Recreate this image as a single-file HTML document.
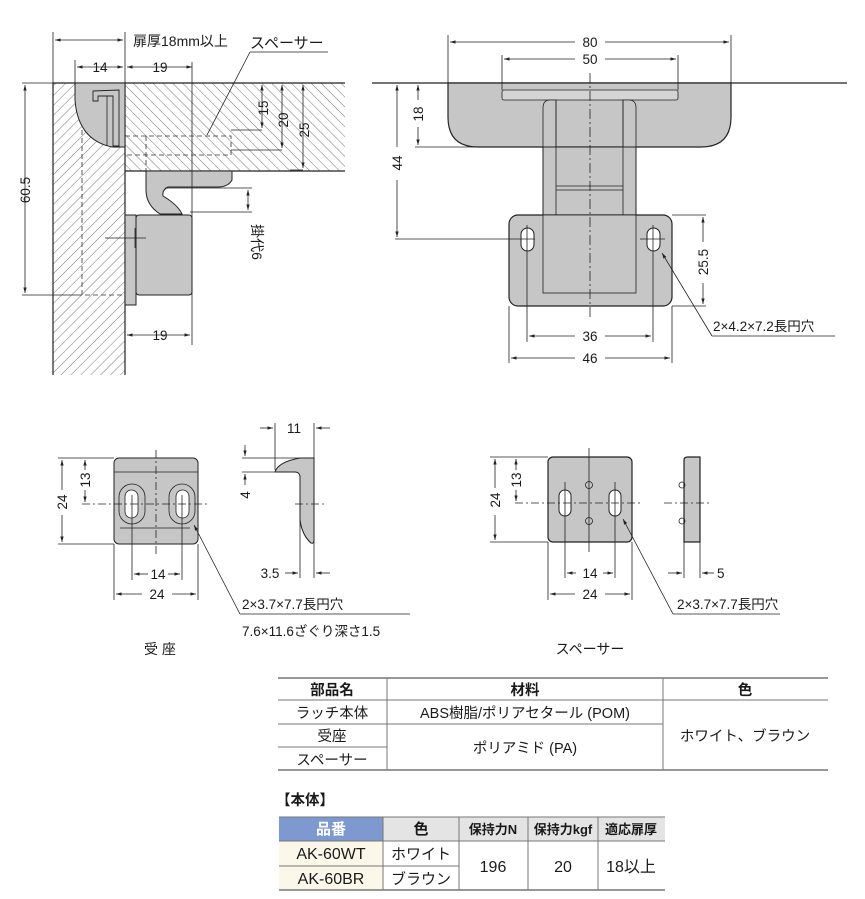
<!DOCTYPE html>
<html><head><meta charset="utf-8"><style>
html,body{margin:0;padding:0;background:#fff;}
svg{display:block;}
text{font-family:"Liberation Sans","Noto Sans CJK JP",sans-serif;fill:#1a1a1a;}
</style></head><body>
<svg width="865" height="899" viewBox="0 0 865 899" xmlns="http://www.w3.org/2000/svg">
<defs>
<pattern id="h1" width="7" height="7" patternUnits="userSpaceOnUse" patternTransform="rotate(45)"><line x1="0" y1="0" x2="0" y2="7" stroke="#666" stroke-width="0.9"/></pattern>
<pattern id="h2" width="7" height="7" patternUnits="userSpaceOnUse" patternTransform="rotate(-45)"><line x1="0" y1="0" x2="0" y2="7" stroke="#666" stroke-width="0.9"/></pattern>
<marker id="a" viewBox="0 0 10 10" refX="10" refY="5" markerWidth="7" markerHeight="7" orient="auto-start-reverse"><path d="M0,2 L10,5 L0,8 z" fill="#222"/></marker>
</defs>
<g stroke="#222" fill="none" stroke-width="0.8">
<rect x="53" y="83" width="72" height="292" fill="url(#h1)" stroke="none"/>
<rect x="125" y="83" width="220" height="88" fill="url(#h2)" stroke="none"/>
<line x1="53" y1="83" x2="345" y2="83" stroke-width="1.2"/>
<line x1="53" y1="83" x2="53" y2="375" stroke-width="1.2"/>
<line x1="125" y1="83" x2="125" y2="375" stroke-width="1.2"/>
<line x1="125" y1="171" x2="345" y2="171" stroke-width="1.2"/>
<path d="M75,83 L125,83 L125,147 L112,147 Q78,140 75,100 Z" fill="#c6c6c6" stroke-width="1"/>
<path d="M93,91 L119,90 L119,146 L113,146 L113,96 L98,96 L98,101 L93,101 Z" fill="#c6c6c6" stroke-width="0.9"/>
<line x1="107" y1="96" x2="107" y2="146"/>
<g stroke-dasharray="5,3" stroke="#333">
<path d="M82,130 L82,295 L125,295"/>
<path d="M125,136 L231,136 L231,155 L125,155"/>
<line x1="146" y1="136" x2="146" y2="171"/>
</g>
<path d="M146,171 L232,171 L232,180 Q228,187 218,187 L168,187 Q162,190 163,196 Q178,205 182,214 L160,214 Q146,205 146,190 Z" fill="#c6c6c6" stroke-width="1"/>
<rect x="125" y="215" width="11" height="90" fill="#c6c6c6" stroke-width="1"/>
<rect x="136" y="215" width="56" height="80" rx="3" fill="#c6c6c6" stroke-width="1"/>
<line x1="105" y1="238" x2="146" y2="238"/><line x1="135" y1="228" x2="135" y2="248"/>
<line x1="53" y1="32" x2="53" y2="83"/><line x1="125" y1="32" x2="125" y2="83"/>
<line x1="55" y1="40" x2="123" y2="40" marker-start="url(#a)" marker-end="url(#a)"/>
<line x1="75" y1="60" x2="75" y2="83"/>
<line x1="77" y1="67" x2="123" y2="67" marker-start="url(#a)" marker-end="url(#a)"/>
<line x1="127" y1="67" x2="192" y2="67" marker-start="url(#a)" marker-end="url(#a)"/>
<line x1="192" y1="62" x2="192" y2="345"/>
<line x1="250" y1="52" x2="328" y2="52"/>
<line x1="250" y1="52" x2="207" y2="135"/>
<line x1="231" y1="130" x2="262" y2="130"/><line x1="231" y1="150" x2="282" y2="150"/><line x1="290" y1="170" x2="303" y2="170"/>
<line x1="262" y1="85" x2="262" y2="128" marker-start="url(#a)" marker-end="url(#a)"/>
<line x1="282" y1="85" x2="282" y2="148" marker-start="url(#a)" marker-end="url(#a)"/>
<line x1="303" y1="85" x2="303" y2="168" marker-start="url(#a)" marker-end="url(#a)"/>
<line x1="165" y1="188" x2="252" y2="188"/><line x1="190" y1="212" x2="252" y2="212"/>
<line x1="248" y1="190" x2="248" y2="210" marker-start="url(#a)" marker-end="url(#a)"/>
<line x1="22" y1="83" x2="53" y2="83"/><line x1="22" y1="295" x2="82" y2="295"/>
<line x1="25" y1="85" x2="25" y2="293" marker-start="url(#a)" marker-end="url(#a)"/>
<line x1="127" y1="335" x2="190" y2="335" marker-start="url(#a)" marker-end="url(#a)"/>

<line x1="372" y1="83" x2="847" y2="83" stroke-width="1.2"/>
<path d="M448,83 L731,83 L731,117 Q731,147 701,147 L478,147 Q448,147 448,117 Z" fill="#c6c6c6" stroke-width="1.2"/>
<rect x="502" y="90" width="176" height="10" rx="2" fill="#d4d4d4"/>
<path d="M543,147 L543,108 Q543,100 550,100 L556,100 L556,147" fill="#c6c6c6"/>
<path d="M636,147 L636,108 Q636,100 629,100 L623,100 L623,147" fill="#c6c6c6"/>
<rect x="543" y="147" width="93" height="68" fill="#c6c6c6" stroke-width="1"/>
<line x1="556" y1="100" x2="556" y2="215"/><line x1="623" y1="100" x2="623" y2="215"/>
<line x1="556" y1="186" x2="623" y2="186"/><line x1="556" y1="190" x2="623" y2="190"/>
<rect x="509" y="215" width="163" height="91" rx="9" fill="#c6c6c6" stroke-width="1.2"/>
<rect x="543" y="215" width="93" height="78" fill="#c6c6c6"/>
<rect x="521" y="228" width="13" height="23" rx="6.5" fill="#fff" stroke-width="1"/>
<rect x="647" y="228" width="13" height="23" rx="6.5" fill="#fff" stroke-width="1"/>
<line x1="590" y1="73" x2="590" y2="318" stroke-dasharray="10,3,2,3"/>
<line x1="448" y1="35" x2="448" y2="83"/><line x1="731" y1="35" x2="731" y2="83"/>
<line x1="450" y1="42" x2="575" y2="42" marker-start="url(#a)"/><line x1="605" y1="42" x2="729" y2="42" marker-end="url(#a)"/>
<line x1="502" y1="55" x2="502" y2="90"/><line x1="678" y1="55" x2="678" y2="90"/>
<line x1="504" y1="59" x2="575" y2="59" marker-start="url(#a)"/><line x1="605" y1="59" x2="676" y2="59" marker-end="url(#a)"/>
<line x1="415" y1="147" x2="478" y2="147"/>
<line x1="418" y1="85" x2="418" y2="100" marker-start="url(#a)"/><line x1="418" y1="127" x2="418" y2="145" marker-end="url(#a)"/>
<line x1="395" y1="239" x2="535" y2="239"/><line x1="640" y1="239" x2="665" y2="239"/>
<line x1="397" y1="85" x2="397" y2="147" marker-start="url(#a)"/><line x1="397" y1="180" x2="397" y2="237" marker-end="url(#a)"/>
<line x1="672" y1="215" x2="706" y2="215"/><line x1="672" y1="306" x2="706" y2="306"/>
<line x1="703" y1="217" x2="703" y2="242" marker-start="url(#a)"/><line x1="703" y1="283" x2="703" y2="304" marker-end="url(#a)"/>
<line x1="527" y1="225" x2="527" y2="342"/><line x1="653" y1="225" x2="653" y2="342"/>
<line x1="509" y1="306" x2="509" y2="363"/><line x1="672" y1="306" x2="672" y2="363"/>
<line x1="529" y1="336" x2="575" y2="336" marker-start="url(#a)"/><line x1="605" y1="336" x2="651" y2="336" marker-end="url(#a)"/>
<line x1="511" y1="358" x2="575" y2="358" marker-start="url(#a)"/><line x1="605" y1="358" x2="670" y2="358" marker-end="url(#a)"/>
<line x1="712" y1="336" x2="662" y2="253" marker-end="url(#a)"/><line x1="712" y1="336" x2="835" y2="336"/>

<rect x="114" y="458" width="84" height="86" rx="5" fill="#c6c6c6" stroke-width="1"/>
<line x1="114" y1="472" x2="198" y2="472"/>
<rect x="119" y="484" width="26" height="40" rx="13" fill="#c6c6c6"/><rect x="125" y="490" width="13" height="28" rx="6.5" fill="#fff"/>
<rect x="169" y="484" width="26" height="40" rx="13" fill="#c6c6c6"/><rect x="176" y="490" width="13" height="28" rx="6.5" fill="#fff"/>
<line x1="156" y1="450" x2="156" y2="555" stroke-dasharray="8,3,2,3"/>
<line x1="82" y1="504" x2="210" y2="504" stroke-dasharray="8,3,2,3"/>
<line x1="58" y1="458" x2="114" y2="458"/><line x1="58" y1="544" x2="114" y2="544"/>
<line x1="62" y1="460" x2="62" y2="490" marker-start="url(#a)"/><line x1="62" y1="515" x2="62" y2="542" marker-end="url(#a)"/>
<line x1="85" y1="460" x2="85" y2="470" marker-start="url(#a)"/><line x1="85" y1="490" x2="85" y2="502" marker-end="url(#a)"/>
<line x1="132" y1="495" x2="132" y2="580"/><line x1="182" y1="495" x2="182" y2="580"/>
<line x1="114" y1="544" x2="114" y2="600"/><line x1="198" y1="544" x2="198" y2="600"/>
<line x1="134" y1="574" x2="148" y2="574" marker-start="url(#a)"/><line x1="168" y1="574" x2="180" y2="574" marker-end="url(#a)"/>
<line x1="116" y1="594" x2="142" y2="594" marker-start="url(#a)"/><line x1="172" y1="594" x2="196" y2="594" marker-end="url(#a)"/>
<line x1="240" y1="614" x2="194" y2="525" marker-end="url(#a)"/><line x1="240" y1="614" x2="410" y2="614"/>
<line x1="120" y1="528" x2="190" y2="528"/>
<path d="M275,472 Q278,462 300,458 L314,458 L314,540 Q314,544 311,543 Q302,535 300,520 L300,476 Q299,472 295,472 Z" fill="#c6c6c6" stroke-width="1"/>
<line x1="295" y1="504" x2="325" y2="504" stroke-dasharray="8,3,2,3"/>
<line x1="275" y1="423" x2="275" y2="470"/><line x1="314" y1="423" x2="314" y2="458"/>
<line x1="260" y1="428" x2="273" y2="428" marker-end="url(#a)"/><line x1="330" y1="428" x2="316" y2="428" marker-end="url(#a)"/>
<line x1="242" y1="458" x2="300" y2="458"/><line x1="242" y1="472" x2="275" y2="472"/>
<line x1="245" y1="445" x2="245" y2="456" marker-end="url(#a)"/><line x1="245" y1="485" x2="245" y2="474" marker-end="url(#a)"/>
<line x1="300" y1="520" x2="300" y2="578"/><line x1="314" y1="540" x2="314" y2="578"/>
<line x1="285" y1="573" x2="298" y2="573" marker-end="url(#a)"/><line x1="330" y1="573" x2="316" y2="573" marker-end="url(#a)"/>

<rect x="548" y="457" width="84" height="85" rx="5" fill="#c6c6c6" stroke-width="1.2"/>
<rect x="559" y="490" width="12" height="26" rx="6" fill="#fff" stroke-width="1"/>
<rect x="609" y="490" width="12" height="26" rx="6" fill="#fff" stroke-width="1"/>
<circle cx="589" cy="485" r="3.5"/><circle cx="589" cy="521" r="3.5"/>
<line x1="589" y1="448" x2="589" y2="552"/>
<line x1="515" y1="503" x2="640" y2="503" stroke-dasharray="8,3,2,3"/>
<line x1="565" y1="482" x2="565" y2="578"/><line x1="615" y1="482" x2="615" y2="578"/>
<line x1="490" y1="457" x2="548" y2="457"/><line x1="490" y1="542" x2="548" y2="542"/>
<line x1="495" y1="459" x2="495" y2="488" marker-start="url(#a)"/><line x1="495" y1="515" x2="495" y2="540" marker-end="url(#a)"/>
<line x1="516" y1="459" x2="516" y2="470" marker-start="url(#a)"/><line x1="516" y1="490" x2="516" y2="501" marker-end="url(#a)"/>
<line x1="548" y1="542" x2="548" y2="600"/><line x1="632" y1="542" x2="632" y2="600"/>
<line x1="567" y1="573" x2="576" y2="573" marker-start="url(#a)"/><line x1="603" y1="573" x2="613" y2="573" marker-end="url(#a)"/>
<line x1="550" y1="594" x2="575" y2="594" marker-start="url(#a)"/><line x1="605" y1="594" x2="630" y2="594" marker-end="url(#a)"/>
<line x1="673" y1="614" x2="623" y2="519" marker-end="url(#a)"/><line x1="673" y1="614" x2="780" y2="614"/>
<path d="M684,460 Q684,457 688,457 L700,457 L700,542 L684,542 Z" fill="#c6c6c6" stroke-width="1.2"/>
<circle cx="682" cy="485" r="3"/><circle cx="682" cy="521" r="3"/>
<line x1="664" y1="503" x2="710" y2="503" stroke-dasharray="8,3,2,3"/>
<line x1="684" y1="542" x2="684" y2="578"/><line x1="700" y1="542" x2="700" y2="578"/>
<line x1="668" y1="573" x2="682" y2="573" marker-end="url(#a)"/><line x1="714" y1="573" x2="702" y2="573" marker-end="url(#a)"/>
</g>
<g font-size="13.5">
<text x="133" y="46" font-size="14">扉厚18mm以上</text>
<text x="250" y="48" font-size="15">スペーサー</text>
<text x="100" y="72" text-anchor="middle">14</text>
<text x="160" y="72" text-anchor="middle">19</text>
<text x="160" y="340" text-anchor="middle">19</text>
<text transform="translate(268,108) rotate(-90)" text-anchor="middle">15</text>
<text transform="translate(288,120) rotate(-90)" text-anchor="middle">20</text>
<text transform="translate(309,130) rotate(-90)" text-anchor="middle">25</text>
<text transform="translate(252,242) rotate(90)" text-anchor="middle" font-size="14">掛代6</text>
<text transform="translate(30,190) rotate(-90)" text-anchor="middle">60.5</text>
<text x="590" y="47" text-anchor="middle">80</text>
<text x="590" y="64" text-anchor="middle">50</text>
<text transform="translate(423,114) rotate(-90)" text-anchor="middle">18</text>
<text transform="translate(402,163) rotate(-90)" text-anchor="middle">44</text>
<text transform="translate(708,262) rotate(-90)" text-anchor="middle">25.5</text>
<text x="590" y="341" text-anchor="middle">36</text>
<text x="590" y="363" text-anchor="middle">46</text>
<text x="713" y="331">2×4.2×7.2長円穴</text>
<text transform="translate(67,502) rotate(-90)" text-anchor="middle">24</text>
<text transform="translate(90,480) rotate(-90)" text-anchor="middle">13</text>
<text x="158" y="579" text-anchor="middle">14</text>
<text x="157" y="599" text-anchor="middle">24</text>
<text x="294" y="433" text-anchor="middle">11</text>
<text transform="translate(250,495) rotate(-90)" text-anchor="middle">4</text>
<text x="270" y="578" text-anchor="middle">3.5</text>
<text x="242" y="609">2×3.7×7.7長円穴</text>
<text x="242" y="636">7.6×11.6ざぐり深さ1.5</text>
<text x="160" y="654" text-anchor="middle" font-size="14">受 座</text>
<text transform="translate(500,500) rotate(-90)" text-anchor="middle">24</text>
<text transform="translate(521,480) rotate(-90)" text-anchor="middle">13</text>
<text x="590" y="578" text-anchor="middle">14</text>
<text x="590" y="599" text-anchor="middle">24</text>
<text x="717" y="578">5</text>
<text x="677" y="609">2×3.7×7.7長円穴</text>
<text x="590" y="654" text-anchor="middle" font-size="14">スペーサー</text>
</g>
<g stroke="#777" stroke-width="1">
<line x1="278" y1="678" x2="828" y2="678" stroke-width="1.5"/>
<line x1="278" y1="700" x2="828" y2="700"/>
<line x1="278" y1="724" x2="663" y2="724"/>
<line x1="278" y1="747" x2="387" y2="747"/>
<line x1="278" y1="770" x2="828" y2="770" stroke-width="1.5"/>
<line x1="387" y1="678" x2="387" y2="770"/>
<line x1="663" y1="678" x2="663" y2="770"/>
</g>
<g font-size="14.5" text-anchor="middle">
<text x="332" y="695" font-weight="bold">部品名</text>
<text x="525" y="695" font-weight="bold">材料</text>
<text x="745" y="695" font-weight="bold">色</text>
<text x="332" y="718">ラッチ本体</text>
<text x="525" y="718">ABS樹脂/ポリアセタール (POM)</text>
<text x="332" y="741">受座</text>
<text x="332" y="765">スペーサー</text>
<text x="525" y="753">ポリアミド (PA)</text>
<text x="745" y="741">ホワイト、ブラウン</text>
</g>
<text x="276" y="805" font-size="14.5" font-weight="bold">【本体】</text>
<rect x="279" y="817" width="104" height="24" fill="#7d99cf"/>
<rect x="383" y="817" width="282" height="24" fill="#e4e4e4"/>
<rect x="279" y="841" width="104" height="49" fill="#fbf8ea"/>
<g stroke="#777" stroke-width="1">
<line x1="279" y1="817" x2="665" y2="817"/>
<line x1="279" y1="841" x2="665" y2="841"/>
<line x1="279" y1="866" x2="459" y2="866"/>
<line x1="279" y1="890" x2="665" y2="890" stroke-width="1.5"/>
<line x1="383" y1="817" x2="383" y2="890"/>
<line x1="459" y1="817" x2="459" y2="890"/>
<line x1="528" y1="817" x2="528" y2="890"/>
<line x1="598" y1="817" x2="598" y2="890"/>
</g>
<g font-size="15" text-anchor="middle">
<text x="331" y="834" font-weight="bold" style="fill:#fff">品番</text>
<text x="421" y="834" font-weight="bold">色</text>
<text x="493" y="834" font-weight="bold" font-size="13">保持力N</text>
<text x="563" y="834" font-weight="bold" font-size="13">保持力kgf</text>
<text x="631" y="834" font-weight="bold" font-size="13">適応扉厚</text>
<text x="331" y="859" font-size="16">AK-60WT</text>
<text x="331" y="884" font-size="16">AK-60BR</text>
<text x="421" y="859">ホワイト</text>
<text x="421" y="884">ブラウン</text>
<text x="493" y="872" font-size="16">196</text>
<text x="563" y="872" font-size="16">20</text>
<text x="631" y="872" font-size="16">18以上</text>
</g>
</svg>
</body></html>
